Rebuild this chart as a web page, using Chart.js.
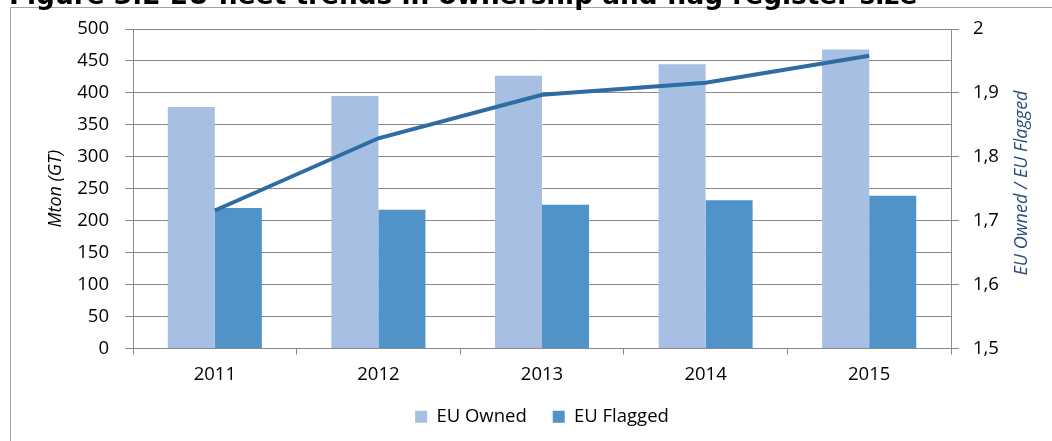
<!DOCTYPE html>
<html>
<head>
<meta charset="utf-8">
<script src="https://cdn.jsdelivr.net/npm/chart.js@4/dist/chart.umd.min.js"></script>
<style>
html,body{margin:0;padding:0;background:#fff;}
#wrap{width:1052px;height:441px;position:relative;}
</style>
</head>
<body>
<div id="wrap"><canvas id="c" width="1052" height="441"></canvas></div>
<script>
const titleText = "Figure 3.2 EU fleet trends in ownership and flag register size";
const years = ["2011", "2012", "2013", "2014", "2015"];
const euOwned = [378, 395, 427, 445, 468];
const euFlagged = [220, 217, 225, 232, 239];
const ratioOwnedFlagged = [1.716, 1.829, 1.897, 1.916, 1.958];
const leftAxisTitle = "Mton (GT)";
const rightAxisTitle = "EU Owned / EU Flagged";

const FONT = "'Open Sans', 'Liberation Sans', sans-serif";
const GRID = "#8a8a8a";

const framePlugin = {
  id: 'frame',
  beforeDraw(chart) {
    const ctx = chart.ctx;
    ctx.save();
    ctx.fillStyle = '#fff';
    ctx.fillRect(0, 0, chart.width, chart.height);
    ctx.strokeStyle = '#a3a3a3';
    ctx.lineWidth = 1;
    ctx.beginPath();
    ctx.moveTo(10.5, chart.height);
    ctx.lineTo(10.5, 7.5);
    ctx.lineTo(chart.width, 7.5);
    ctx.stroke();
    // clipped title
    ctx.fillStyle = '#000';
    ctx.font = "bold 20px 'DejaVu Sans'";
    const w = ctx.measureText(titleText).width;
    const size = 20 * 909 / w;
    ctx.font = "bold " + size + "px 'DejaVu Sans'";
    ctx.textBaseline = 'alphabetic';
    ctx.textAlign = 'left';
    ctx.fillText(titleText, 9, 3.5);
    ctx.restore();
  },
  afterDraw(chart) {
    const ctx = chart.ctx;
    ctx.save();
    ctx.translate(1022, 183);
    ctx.rotate(-Math.PI / 2);
    ctx.fillStyle = '#2a4d77';
    ctx.font = "italic 18px " + FONT;
    ctx.textAlign = 'center';
    ctx.textBaseline = 'middle';
    ctx.fillText(rightAxisTitle, 0, 0);
    ctx.restore();
  }
};

new Chart(document.getElementById('c'), {
  data: {
    labels: years,
    datasets: [
      {
        type: 'line',
        label: 'Ratio',
        data: ratioOwnedFlagged,
        yAxisID: 'y1',
        borderColor: '#2e6ca4',
        borderWidth: 4,
        pointRadius: 0,
        tension: 0,
        fill: false,
        order: 0
      },
      {
        type: 'bar',
        label: 'EU Owned',
        data: euOwned,
        yAxisID: 'y',
        backgroundColor: '#a6bfe3',
        categoryPercentage: 0.575,
        barPercentage: 1.0,
        order: 1
      },
      {
        type: 'bar',
        label: 'EU Flagged',
        data: euFlagged,
        yAxisID: 'y',
        backgroundColor: '#4f93c9',
        categoryPercentage: 0.575,
        barPercentage: 1.0,
        order: 1
      }
    ]
  },
  options: {
    responsive: false,
    animation: false,
    layout: { padding: { left: 0, right: 0, top: 29, bottom: 5 } },
    plugins: {
      tooltip: { enabled: false },
      legend: {
        position: 'bottom',
        fullSize: false,
        labels: {
          filter: (item) => item.text !== 'Ratio',
          boxWidth: 12,
          boxHeight: 12,
          padding: 26,
          color: '#000',
          font: { family: FONT, size: 18.5 }
        }
      }
    },
    scales: {
      x: {
        offset: true,
        grid: { offset: true, drawOnChartArea: false, drawTicks: true, tickLength: 6, color: GRID },
        border: { color: GRID },
        ticks: { color: '#000', font: { family: FONT, size: 18.5 }, padding: 9 },
        afterFit: (s) => { s.height = 33; }
      },
      y: {
        position: 'left',
        min: 0, max: 500,
        ticks: { stepSize: 50, color: '#000', font: { family: FONT, size: 18.5 }, padding: 16 },
        grid: { color: GRID, tickLength: 8 },
        border: { color: GRID },
        title: { display: true, text: leftAxisTitle, color: '#000', font: { family: FONT, size: 18, style: 'italic' }, padding: { top: 45, bottom: 0 } },
        afterFit: (s) => { s.width = 133; }
      },
      y1: {
        position: 'right',
        min: 1.5, max: 2,
        ticks: {
          stepSize: 0.1, color: '#000', font: { family: FONT, size: 18.5 }, padding: 14,
          callback: (v) => Math.abs(v - Math.round(v)) < 1e-9 ? String(Math.round(v)) : v.toFixed(1).replace('.', ',')
        },
        grid: { drawOnChartArea: false, color: GRID, tickLength: 8 },
        border: { color: GRID },
        afterFit: (s) => { s.width = 101; }
      }
    }
  },
  plugins: [framePlugin]
});
</script>
</body>
</html>
